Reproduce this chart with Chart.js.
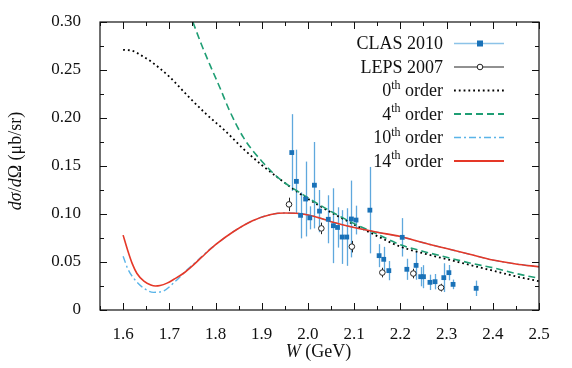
<!DOCTYPE html>
<html><head><meta charset="utf-8">
<script src="https://cdn.jsdelivr.net/npm/chart.js@4/dist/chart.umd.min.js"></script>
<style>html,body{margin:0;padding:0;background:#fff}</style>
</head><body>
<canvas id="c" width="572" height="368" style="width:572px;height:368px;display:block"></canvas>
<script>
// ---------- data ----------
const clasW  = [1.965,1.975,1.984,1.995,2.004,2.014,2.025,2.044,2.055,2.064,2.074,2.084,2.094,2.104,2.134,2.154,2.164,2.175,2.204,2.214,2.234,2.244,2.250,2.264,2.275,2.294,2.305,2.314,2.364];
const clasXS = [0.164,0.134,0.0986,0.1156,0.096,0.130,0.103,0.0945,0.0878,0.086,0.076,0.076,0.0948,0.0937,0.104,0.0566,0.0528,0.041,0.0757,0.0424,0.0465,0.0347,0.0347,0.0288,0.0295,0.0337,0.0389,0.0267,0.0226];
const clasErr= [0.040,0.033,0.024,0.039,0.012,0.045,0.022,0.025,0.039,0.021,0.028,0.030,0.040,0.015,0.045,0.012,0.013,0.010,0.020,0.011,0.015,0.010,0.012,0.008,0.008,0.015,0.008,0.005,0.008];

const lepsW  = [1.959,2.029,2.095,2.161,2.228,2.288];
const lepsXS = [0.110,0.085,0.066,0.039,0.038,0.0233];
const lepsErr= [0.007,0.006,0.006,0.005,0.005,0.004];

const ord0W  = [1.60,1.62,1.64,1.66,1.70,1.74,1.78,1.82,1.86,1.90,1.94,1.98,2.02,2.06,2.10,2.15,2.20,2.25,2.30,2.35,2.40,2.45,2.50];
const ord0XS = [0.271,0.270,0.265,0.259,0.243,0.223,0.204,0.187,0.168,0.151,0.136,0.122,0.110,0.099,0.089,0.077,0.066,0.059,0.053,0.047,0.041,0.035,0.030];

const ord4W  = [1.751,1.77,1.79,1.81,1.83,1.86,1.90,1.94,1.98,2.02,2.06,2.10,2.15,2.20,2.25,2.30,2.35,2.40,2.45,2.50];
const ord4XS = [0.300,0.276,0.253,0.231,0.208,0.180,0.155,0.136,0.123,0.111,0.100,0.090,0.079,0.068,0.061,0.055,0.049,0.044,0.038,0.033];

const ord10W  = [1.60,1.61,1.623,1.645,1.666,1.688,1.709,1.738,1.76,1.78,1.80,1.84,1.88,1.92,1.95,1.98,2.01,2.05,2.10,2.15,2.20,2.25,2.30,2.35,2.40,2.45,2.50];
const ord10XS = [0.056,0.043,0.033,0.0226,0.0184,0.020,0.028,0.0417,0.051,0.060,0.068,0.082,0.093,0.0995,0.101,0.1005,0.098,0.092,0.086,0.081,0.0765,0.070,0.064,0.058,0.052,0.048,0.045];

const ord14W  = [1.60,1.61,1.62,1.63,1.645,1.66,1.67,1.68,1.695,1.71,1.73,1.75,1.77,1.80,1.84,1.88,1.92,1.95,1.98,2.01,2.05,2.10,2.15,2.20,2.25,2.30,2.35,2.40,2.45,2.50];
const ord14XS = [0.078,0.062,0.048,0.038,0.030,0.026,0.025,0.0255,0.028,0.032,0.038,0.046,0.055,0.068,0.082,0.093,0.0995,0.101,0.1005,0.098,0.092,0.086,0.081,0.0765,0.070,0.064,0.058,0.052,0.048,0.045];

const xTicks = [1.6,1.7,1.8,1.9,2.0,2.1,2.2,2.3,2.4,2.5];
const xTickLabels = ['1.6','1.7','1.8','1.9','2.0','2.1','2.2','2.3','2.4','2.5'];
const xMinor = [1.55,1.65,1.75,1.85,1.95,2.05,2.15,2.25,2.35,2.45];
const yTicks = [0,0.05,0.10,0.15,0.20,0.25,0.30];
const yTickLabels = ['0','0.05','0.10','0.15','0.20','0.25','0.30'];
const yMinor = [0.025,0.075,0.125,0.175,0.225,0.275];

const seriesLabels = ['CLAS 2010','LEPS 2007','0th order','4th order','10th order','14th order'];

// ---------- styles ----------
const C_CLAS = '#1a72b8', C_CLAS_ERR = '#5fa8dd', C_CLAS_LEG = '#8cc3e8';
const C_4 = '#1f9e74', C_10 = '#5ab4e8', C_14 = '#e53828';
const SERIF = '"Liberation Serif","DejaVu Serif",serif';

const pts = (xs, ys) => xs.map((x, i) => ({x: x, y: ys[i]}));

const errorBars = {
  id: 'errorBars',
  beforeDatasetsDraw(chart) {
    const {ctx, chartArea: a, scales: {x, y}} = chart;
    ctx.save();
    ctx.beginPath(); ctx.rect(a.left, a.top, a.right - a.left, a.bottom - a.top); ctx.clip();
    const draw = (ws, vs, es, color, w) => {
      ctx.strokeStyle = color; ctx.lineWidth = w;
      ws.forEach((wv, i) => {
        const px = Math.round(x.getPixelForValue(wv)) + 0.5;
        ctx.beginPath();
        ctx.moveTo(px, y.getPixelForValue(vs[i] - es[i]));
        ctx.lineTo(px, y.getPixelForValue(vs[i] + es[i]));
        ctx.stroke();
      });
    };
    draw(clasW, clasXS, clasErr, C_CLAS_ERR, 1.3);
    draw(lepsW, lepsXS, lepsErr, '#222', 1);
    ctx.restore();
  }
};

function rich(ctx, parts, x, y, align) {
  let total = 0;
  parts.forEach(p => { ctx.font = p.f; p.w = ctx.measureText(p.t).width; total += p.w; });
  let cx = align === 'right' ? x - total : (align === 'center' ? x - total / 2 : x);
  parts.forEach(p => { ctx.font = p.f; ctx.fillText(p.t, cx, y + (p.dy || 0)); cx += p.w; });
}

const frameAndExtras = {
  id: 'frameAndExtras',
  afterDraw(chart) {
    const {ctx, chartArea: a, scales: {x, y}} = chart;
    ctx.save();
    ctx.strokeStyle = '#111'; ctx.lineWidth = 1.2;
    ctx.strokeRect(a.left, a.top, a.right - a.left, a.bottom - a.top);
    ctx.lineWidth = 1;
    const tickX = (vals, len) => vals.forEach(v => {
      const px = Math.round(x.getPixelForValue(v)) + 0.5;
      ctx.beginPath(); ctx.moveTo(px, a.bottom); ctx.lineTo(px, a.bottom - len);
      ctx.moveTo(px, a.top); ctx.lineTo(px, a.top + len); ctx.stroke();
    });
    const tickY = (vals, len) => vals.forEach(v => {
      const py = Math.round(y.getPixelForValue(v)) + 0.5;
      ctx.beginPath(); ctx.moveTo(a.left, py); ctx.lineTo(a.left + len, py);
      ctx.moveTo(a.right, py); ctx.lineTo(a.right - len, py); ctx.stroke();
    });
    tickX(xTicks, 7); tickX(xMinor, 4); tickY(yTicks, 7); tickY(yMinor, 4);

    // axis titles
    ctx.fillStyle = '#111'; ctx.textBaseline = 'alphabetic';
    const n = '18px ' + SERIF, it = 'italic 18px ' + SERIF;
    rich(ctx, [{t:'W', f: it}, {t:' (GeV)', f: n}], (a.left + a.right) / 2 - 1, 357, 'center');
    ctx.save();
    ctx.translate(21, 161); ctx.rotate(-Math.PI / 2);
    rich(ctx, [{t:'dσ', f: it}, {t:'/', f: n}, {t:'d', f: it}, {t:'Ω (μb/sr)', f: n}], 0, 0, 'center');
    ctx.restore();

    // legend
    const rows = [43.5, 67, 90.5, 114, 137.5, 161];
    const tx = 443, l0 = 454, l1 = 504;
    const big = '18px ' + SERIF, small = '12px ' + SERIF;
    seriesLabels.forEach((lab, i) => {
      const yy = rows[i];
      const m = lab.match(/^(\d+)(th)(.*)$/);
      ctx.fillStyle = '#111'; ctx.textBaseline = 'middle';
      if (m) rich(ctx, [{t:m[1], f:big}, {t:m[2], f:small, dy:-6}, {t:m[3], f:big}], tx, yy + 1, 'right');
      else rich(ctx, [{t:lab, f:big}], tx, yy + 1, 'right');
      ctx.beginPath(); ctx.setLineDash([]); ctx.lineCap = 'butt';
      if (i === 0) { ctx.strokeStyle = C_CLAS_LEG; ctx.lineWidth = 1.6; }
      if (i === 1) { ctx.strokeStyle = '#222'; ctx.lineWidth = 1; }
      if (i === 2) { ctx.strokeStyle = '#000'; ctx.lineWidth = 1.8; ctx.setLineDash([1.8, 3]); }
      if (i === 3) { ctx.strokeStyle = C_4; ctx.lineWidth = 1.8; ctx.setLineDash([7, 4]); }
      if (i === 4) { ctx.strokeStyle = C_10; ctx.lineWidth = 1.5; ctx.setLineDash([7, 3, 2, 3]); }
      if (i === 5) { ctx.strokeStyle = C_14; ctx.lineWidth = 1.8; }
      ctx.moveTo(l0, yy); ctx.lineTo(l1, yy); ctx.stroke();
      ctx.setLineDash([]);
      const mx = (l0 + l1) / 2 + 1;
      if (i === 0) { ctx.fillStyle = C_CLAS; ctx.fillRect(mx - 3, yy - 3, 6, 6); }
      if (i === 1) { ctx.beginPath(); ctx.arc(mx, yy, 2.8, 0, Math.PI * 2); ctx.fillStyle = '#fff'; ctx.fill(); ctx.strokeStyle = '#222'; ctx.lineWidth = 1; ctx.stroke(); }
    });
    ctx.restore();
  }
};

const curve = (label, xs, ys, color, width, dash, order) => ({
  type: 'line', label: label, data: pts(xs, ys), borderColor: color, borderWidth: width,
  borderDash: dash, pointRadius: 0, fill: false, cubicInterpolationMode: 'monotone', order: order
});

new Chart(document.getElementById('c'), {
  type: 'scatter',
  data: {
    datasets: [
      {label: seriesLabels[0], data: pts(clasW, clasXS), pointStyle: 'rect', pointRadius: 3.4,
       backgroundColor: C_CLAS, borderColor: C_CLAS, borderWidth: 0, order: 0},
      {label: seriesLabels[1], data: pts(lepsW, lepsXS), pointStyle: 'circle', pointRadius: 2.8,
       backgroundColor: '#fff', borderColor: '#222', borderWidth: 1, order: 1},
      curve(seriesLabels[2], ord0W, ord0XS, '#000', 1.8, [1.8, 3], 5),
      curve(seriesLabels[3], ord4W, ord4XS, C_4, 1.6, [7, 4], 4),
      curve(seriesLabels[4], ord10W, ord10XS, C_10, 1.4, [7, 3, 2, 3], 3),
      curve(seriesLabels[5], ord14W, ord14XS, C_14, 1.6, [], 2)
    ]
  },
  options: {
    responsive: false, animation: false, devicePixelRatio: 1,
    layout: {padding: {left: 0, right: 33, top: 22, bottom: 0}},
    plugins: {legend: {display: false}, tooltip: {enabled: false}},
    scales: {
      x: {
        type: 'linear', min: 1.55, max: 2.5,
        afterBuildTicks: s => { s.ticks = xTicks.map(v => ({value: v})); },
        afterFit: s => { s.height = 58; },
        grid: {display: false}, border: {display: false},
        ticks: {padding: 6, color: '#111', font: {family: SERIF, size: 17},
                callback: v => xTickLabels[xTicks.findIndex(t => Math.abs(t - v) < 1e-6)]}
      },
      y: {
        type: 'linear', min: 0, max: 0.30,
        afterBuildTicks: s => { s.ticks = yTicks.map(v => ({value: v})); },
        afterFit: s => { s.width = 100; },
        grid: {display: false}, border: {display: false},
        ticks: {padding: 11, color: '#111', font: {family: SERIF, size: 17},
                callback: v => yTickLabels[yTicks.findIndex(t => Math.abs(t - v) < 1e-6)]}
      }
    }
  },
  plugins: [errorBars, frameAndExtras]
});
</script>
</body></html>
